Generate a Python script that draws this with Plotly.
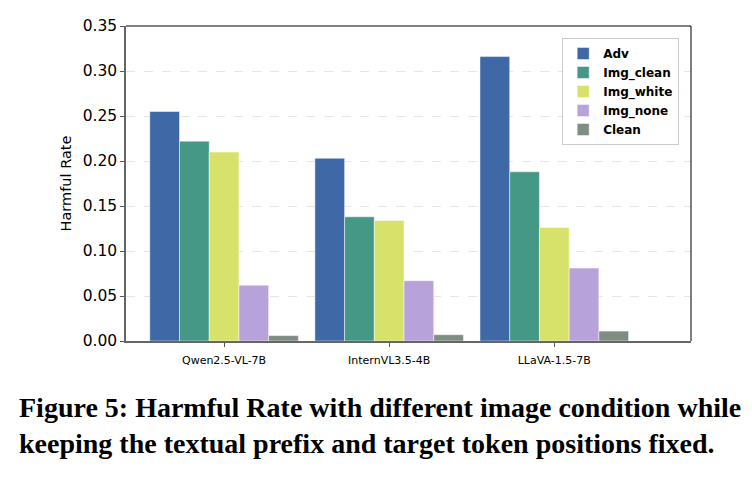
import plotly.graph_objects as go

models = ["Qwen2.5-VL-7B", "InternVL3.5-4B", "LLaVA-1.5-7B"]
series_names = ["Adv", "Img_clean", "Img_white", "Img_none", "Clean"]
adv = [0.255, 0.203, 0.316]
img_clean = [0.222, 0.138, 0.188]
img_white = [0.210, 0.134, 0.126]
img_none = [0.062, 0.067, 0.081]
clean = [0.006, 0.007, 0.011]
yticks = [0.00, 0.05, 0.10, 0.15, 0.20, 0.25, 0.30, 0.35]

colors = ["#3e68a6", "#459786", "#d7e26b", "#b7a3d9", "#7f8d84"]
values = [adv, img_clean, img_white, img_none, clean]

fig = go.Figure()
for name, vals, col in zip(series_names, values, colors):
    fig.add_trace(go.Bar(
        x=list(range(len(models))), y=vals, name=f"<b>{name}</b>",
        marker=dict(color=col, line=dict(color="rgba(255,255,255,0.6)", width=0.8)),
    ))

fig.update_layout(
    width=752, height=488,
    margin=dict(l=126, r=61, t=26, b=147),
    paper_bgcolor="white", plot_bgcolor="white",
    barmode="group", bargap=0.1, bargroupgap=0,
    font=dict(family="DejaVu Sans", color="black"),
    showlegend=True,
    legend=dict(
        x=0.772, y=0.962, xanchor="left", yanchor="top",
        bgcolor="white", bordercolor="#cccccc", borderwidth=1,
        font=dict(size=12, family="DejaVu Sans"),
        tracegroupgap=0, itemwidth=30,
    ),
    xaxis=dict(
        range=[-0.594, 2.828], tickmode="array", tickvals=[0, 1, 2], ticktext=models,
        tickfont=dict(size=11), ticks="outside", ticklen=4, tickcolor="#555",
        ticklabelstandoff=4,
        showline=True, linecolor="#666", linewidth=1.5, showgrid=False, zeroline=False,
    ),
    yaxis=dict(
        range=[0, 0.35], tickmode="array", tickvals=yticks,
        ticktext=[f"{v:.2f}" for v in yticks],
        tickfont=dict(size=15.5), ticks="outside", ticklen=4, tickcolor="#555",
        showline=True, linecolor="#666", linewidth=1.5,
        showgrid=True, gridcolor="#e6e6e6", griddash="dash", gridwidth=1,
        zeroline=False,
        title=dict(text="Harmful Rate", font=dict(size=14.5), standoff=8),
    ),
    shapes=[
        dict(type="line", xref="paper", yref="paper", x0=0, x1=1, y0=1, y1=1,
             line=dict(color="black", width=1)),
        dict(type="line", xref="paper", yref="paper", x0=1, x1=1, y0=0, y1=1,
             line=dict(color="black", width=1)),
    ],
)

fig.add_annotation(
    text="<b>Figure 5: Harmful Rate with different image condition while</b>",
    xref="paper", yref="paper", x=-0.193, y=-0.210, xanchor="left", yanchor="middle",
    showarrow=False, font=dict(family="Liberation Serif", size=28, color="black"),
)
fig.add_annotation(
    text="<b>keeping the textual prefix and target token positions fixed.</b>",
    xref="paper", yref="paper", x=-0.193, y=-0.325, xanchor="left", yanchor="middle",
    showarrow=False, font=dict(family="Liberation Serif", size=28, color="black"),
)

fig.write_html("out.html")
